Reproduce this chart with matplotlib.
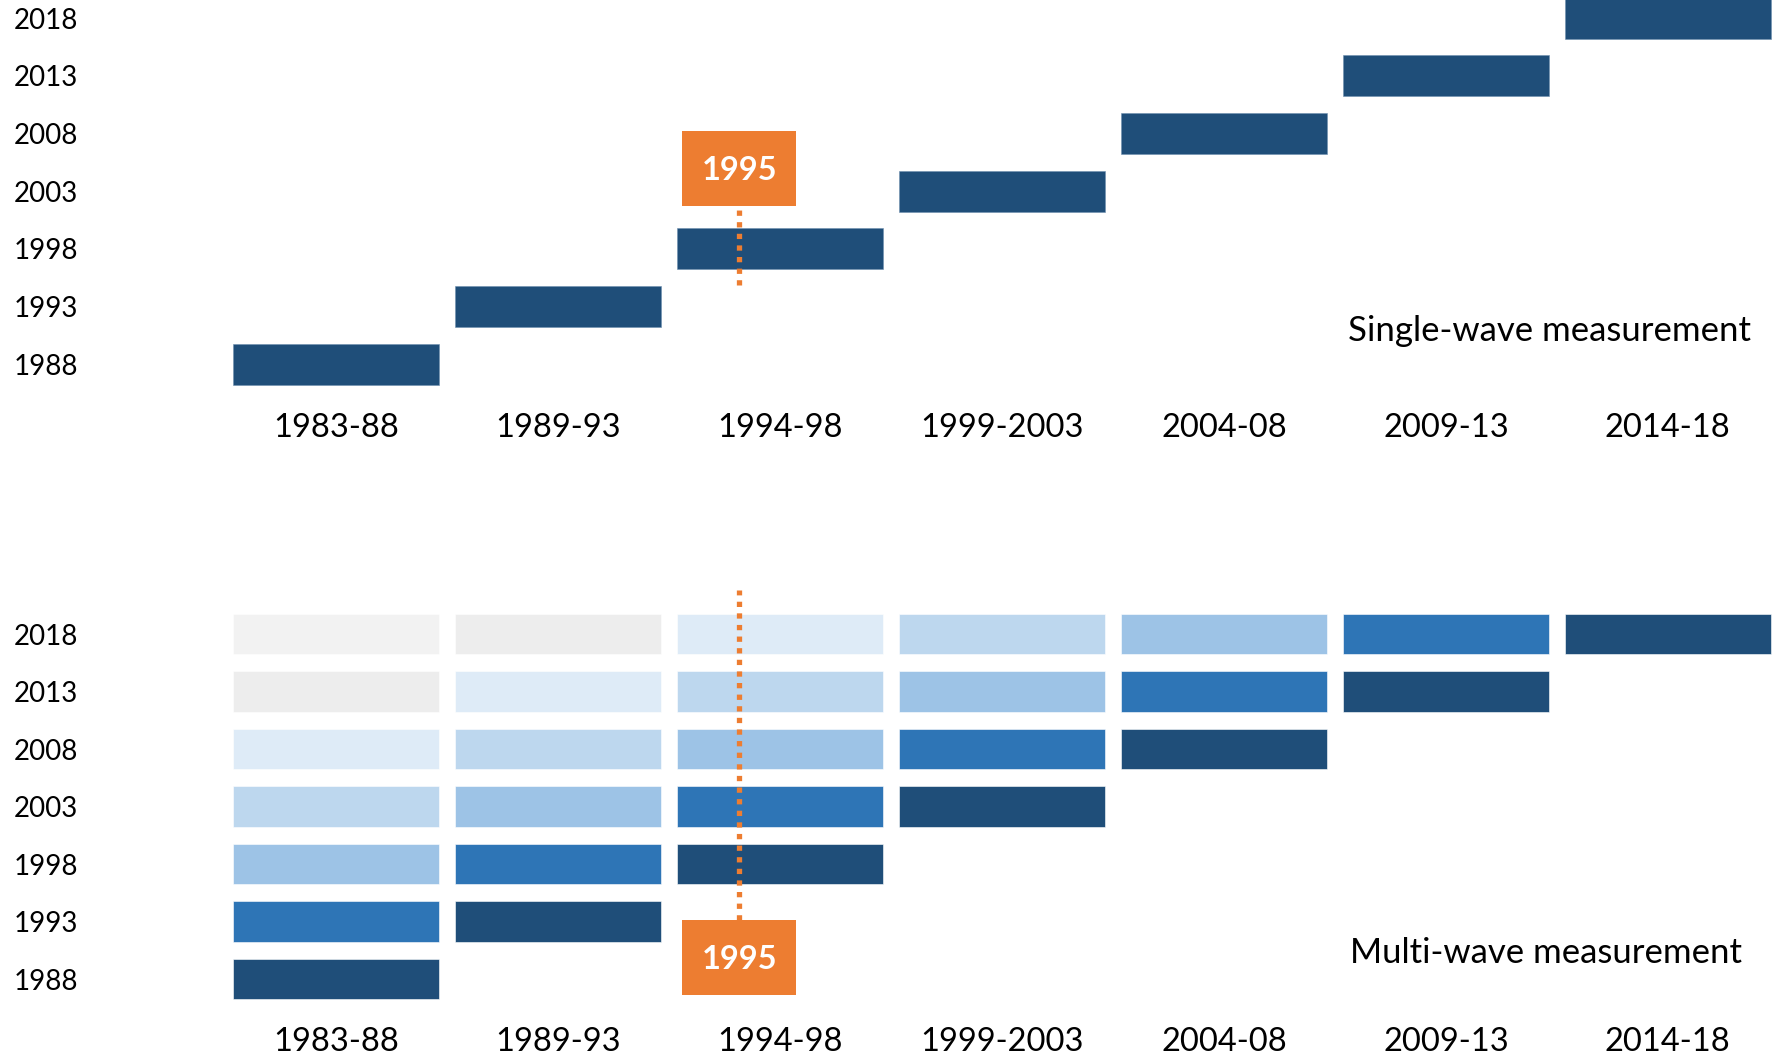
import matplotlib.pyplot as plt

plt.rcParams['font.family'] = ['Lato', 'DejaVu Sans']

# periods on the x axis (plotted at a representative year so 1995 can be marked)
periods = ['1983-88', '1989-93', '1994-98', '1999-2003', '2004-08', '2009-13', '2014-18']
period_x = [1986, 1991, 1996, 2001, 2006, 2011, 2016]

# survey waves on the y axis
waves = [1988, 1993, 1998, 2003, 2008, 2013, 2018]

# single-wave design: each period measured once, by the wave right after it
single_wave = [1988, 1993, 1998, 2003, 2008, 2013, 2018]

# multi-wave design: each period measured by every later wave,
# shade depends on how many waves later the measurement is
lag_colors = ['#1F4E79', '#2E75B6', '#9DC3E6', '#BDD7EE', '#DEEBF7', '#EDEDED', '#F2F2F2']

marker_year = 1995
orange = '#ED7D31'

bar_w = 4.64
bar_h = 3.55
mx = marker_year + 0.08  # small nudge to sit where the original marker is

fig = plt.figure(figsize=(17.85, 10.58), dpi=100)
ax1 = fig.add_axes([90 / 1785, 1 - 400 / 1058, 1 - 90 / 1785, 400 / 1058])
ax2 = fig.add_axes([90 / 1785, 1 - 1014 / 1058, 1 - 90 / 1785, (1014 - 580) / 1058])

# top panel
ax1.barh(single_wave, bar_w, height=bar_h, left=[x - bar_w / 2 for x in period_x],
         color='#1F4E79', edgecolor='#6f8fb0', linewidth=0.4, zorder=2)
ax1.plot([mx, mx], [1994.9, 2001.75], color=orange,
         lw=3.8, linestyle=(0, (1, 1.2)), zorder=3)
ax1.bar(mx, 6.5, width=2.57, bottom=2001.75, color=orange, zorder=3)
ax1.text(mx, 2004.8, str(marker_year), color='white', fontsize=23.5,
         fontweight='bold', ha='center', va='center', zorder=4)
ax1.text(2017.87, 1990.9, 'Single-wave measurement', fontsize=25,
         ha='right', va='center')
ax1.set_ylim(1984.91, 2019.58)

# bottom panel
for i, px in enumerate(period_x):
    for j, w in enumerate(waves):
        if j < i:
            continue
        ax2.barh(w, bar_w, height=bar_h, left=px - bar_w / 2,
                 color=lag_colors[j - i], edgecolor='#ffffff', linewidth=0.4, zorder=2)
ax2.plot([mx, mx], [1993.13, 2021.8], color=orange,
         lw=3.8, linestyle=(0, (1, 1.2)), zorder=3)
ax2.bar(mx, 6.52, width=2.57, bottom=1986.61, color=orange, zorder=3)
ax2.text(mx, 1989.7, str(marker_year), color='white', fontsize=23.5,
         fontweight='bold', ha='center', va='center', zorder=4)
ax2.text(2017.67, 1990.26, 'Multi-wave measurement', fontsize=25,
         ha='right', va='center')
ax2.set_ylim(1984.96, 2022.7)

for ax in (ax1, ax2):
    ax.set_xlim(1980.45, 2018.64)
    ax.set_xticks(period_x)
    ax.set_xticklabels(periods)
    ax.set_yticks(waves)
    ax.set_yticklabels([str(w) for w in waves])
    ax.tick_params(axis='x', length=0, labelsize=23.5, pad=9.5)
    ax.tick_params(axis='y', length=0, labelsize=20, pad=8.7)
    for s in ax.spines.values():
        s.set_visible(False)
    ax.set_facecolor('none')

fig.savefig('out.png', dpi=100)
